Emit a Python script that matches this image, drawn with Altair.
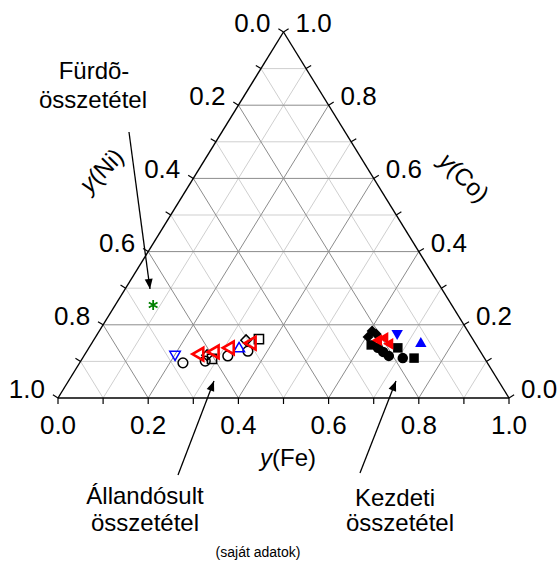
import math
import altair as alt
import pandas as pd

# ---------------- data (mole fractions y(Fe), y(Ni), y(Co)) ----------------
# Állandósult összetétel (open symbols)
o_tri_down_fe = [0.202]
o_tri_down_ni = [0.683]
o_tri_down_co = [0.115]

o_circle_fe = [0.229, 0.276, 0.319, 0.357]
o_circle_ni = [0.675, 0.623, 0.566, 0.515]
o_circle_co = [0.096, 0.101, 0.115, 0.128]

o_square_fe = [0.288, 0.365]
o_square_ni = [0.605, 0.474]
o_square_co = [0.107, 0.161]

o_diamond_fe = [0.272, 0.338]
o_diamond_ni = [0.611, 0.504]
o_diamond_co = [0.117, 0.158]

o_tri_up_fe = [0.332]
o_tri_up_ni = [0.529]
o_tri_up_co = [0.139]

o_tri_left_fe = [0.250, 0.281, 0.309, 0.351]
o_tri_left_ni = [0.630, 0.593, 0.554, 0.499]
o_tri_left_co = [0.120, 0.126, 0.137, 0.150]

# Kezdeti összetétel (filled symbols)
f_diamond_fe = [0.605, 0.604, 0.618]
f_diamond_ni = [0.212, 0.229, 0.207]
f_diamond_co = [0.183, 0.167, 0.175]

f_square_fe = [0.622, 0.685, 0.735]
f_square_ni = [0.233, 0.178, 0.156]
f_square_co = [0.145, 0.137, 0.109]

f_circle_fe = [0.641, 0.658, 0.676, 0.710]
f_circle_ni = [0.222, 0.216, 0.209, 0.181]
f_circle_co = [0.137, 0.126, 0.115, 0.109]

f_tri_left_fe = [0.628, 0.658, 0.639]
f_tri_left_ni = [0.214, 0.194, 0.197]
f_tri_left_co = [0.158, 0.148, 0.164]

f_tri_down_fe = [0.666]
f_tri_down_ni = [0.162]
f_tri_down_co = [0.172]

f_tri_up_fe = [0.728]
f_tri_up_ni = [0.119]
f_tri_up_co = [0.153]

# Fürdõ-összetétel
bath_fe = [0.084]
bath_ni = [0.662]
bath_co = [0.254]

tick_values = [0.0, 0.1, 0.2, 0.3, 0.4, 0.5, 0.6, 0.7, 0.8, 0.9, 1.0]
label_values = [0.0, 0.2, 0.4, 0.6, 0.8, 1.0]

# annotation anchors in the plane's data coordinates (x along base, y = height fraction)
note_text = ["Fürdõ-", "összetétel", "Állandósult", "összetétel", "Kezdeti", "összetétel"]
note_x = [0.0798, 0.0776, 0.1929, 0.1929, 0.7472, 0.7583]
note_y = [0.8907, 0.8115, -0.2705, -0.3443, -0.2760, -0.3443]

arrow_x1 = [0.1574, 0.2661, 0.6696]
arrow_y1 = [0.7268, -0.2104, -0.2049]
arrow_x2 = [0.2040, 0.3459, 0.7494]
arrow_y2 = [0.2978, 0.0464, 0.0464]

# ---------------- layout ----------------
W, H = 557, 568
SX, SY = 451.0, 366.0          # pixels per data unit
XS = alt.Scale(domain=[-58 / SX, (W - 58) / SX], nice=False, zero=False)
YS = alt.Scale(domain=[(398 - H) / SY, 398 / SY], nice=False, zero=False)
FONT = "Liberation Sans"

def enc(extra=None):
    d = dict(x=alt.X("x:Q", scale=XS, axis=None), y=alt.Y("y:Q", scale=YS, axis=None))
    if extra:
        d.update(extra)
    return d

def rules(df, color, width):
    return alt.Chart(df).mark_rule(color=color, strokeWidth=width).encode(
        **enc(dict(x2="x2:Q", y2="y2:Q")))

def cart(fe, co):
    return fe + co / 2.0, co

# grid lines
grid_major, grid_minor = [], []
for i in range(1, 10):
    v = i / 10
    segs = [
        (*cart(0, v), *cart(1 - v, v)),          # y(Co) = v
        (*cart(v, 0), *cart(v, 1 - v)),          # y(Fe) = v
        (*cart(1 - v, 0), *cart(0, 1 - v)),      # y(Ni) = v
    ]
    tgt = grid_major if i % 2 == 0 else grid_minor
    for s in segs:
        tgt.append(dict(x=s[0], y=s[1], x2=s[2], y2=s[3]))
grid_major = pd.DataFrame(grid_major)
grid_minor = pd.DataFrame(grid_minor)

frame = pd.DataFrame([
    dict(x=0, y=0, x2=1, y2=0),
    dict(x=0, y=0, x2=0.5, y2=1),
    dict(x=1, y=0, x2=0.5, y2=1),
])

# ticks (outward, perpendicular to each side)
TL = 6.0
sl = math.hypot(225.5, 366.0)
nx, ny = 366.0 / sl, 225.5 / sl
ticks = []
for v in tick_values:
    bx, by = cart(v, 0)
    ticks.append(dict(x=bx, y=by, x2=bx, y2=by - TL / SY))
    lx, ly = cart(0, 1 - v)
    ticks.append(dict(x=lx, y=ly, x2=lx - nx * TL / SX, y2=ly + ny * TL / SY))
    rx, ry = cart(1 - v, v)
    ticks.append(dict(x=rx, y=ry, x2=rx + nx * TL / SX, y2=ry + ny * TL / SY))
ticks = pd.DataFrame(ticks)

bottom_lab = pd.DataFrame([dict(x=cart(v, 0)[0], y=0, t=f"{v:.1f}") for v in label_values])
left_lab = pd.DataFrame([dict(x=cart(0, 1 - v)[0], y=1 - v, t=f"{v:.1f}") for v in label_values])
right_lab = pd.DataFrame([dict(x=cart(1 - v, v)[0], y=v, t=f"{v:.1f}") for v in label_values])

def texts(df, size=26, **kw):
    return alt.Chart(df).mark_text(font=FONT, fontSize=size, color="black", **kw).encode(
        **enc(dict(text="t:N")))

layers = [
    rules(grid_minor, "#cfcfcf", 1),
    rules(grid_major, "#8c8c8c", 1),
    rules(frame, "black", 1.4),
    rules(ticks, "black", 1.2),
    texts(bottom_lab, align="center", baseline="middle", dy=28),
    texts(left_lab, align="right", baseline="middle", dx=-13, dy=-8),
    texts(right_lab, align="left", baseline="middle", dx=12, dy=-8),
]

# axis titles: italic "y" + upright "(X)"
titles = [("(Fe)", 0.4745, -0.1667, 0), ("(Ni)", 0.0776, 0.5935, 315), ("(Co)", 0.8714, 0.6340, 45)]
for lab, tx, ty, ang in titles:
    d = pd.DataFrame([dict(x=tx, y=ty, t="y")])
    d2 = pd.DataFrame([dict(x=tx, y=ty, t=lab)])
    kw = dict(baseline="middle")
    if ang:
        kw["angle"] = ang
    layers.append(texts(d, size=24, align="right", fontStyle="italic", **kw))
    layers.append(texts(d2, size=24, align="left", **kw))

# annotations
notes = pd.DataFrame(dict(x=note_x, y=note_y, t=note_text))
layers.append(texts(notes, size=24, align="center", baseline="middle"))
layers.append(texts(pd.DataFrame([dict(x=0.4435, y=-0.4235, t="(saját adatok)")]), size=14,
                    align="center", baseline="middle"))

arr = pd.DataFrame(dict(x=arrow_x1, y=arrow_y1, x2=arrow_x2, y2=arrow_y2))
layers.append(rules(arr, "black", 1.3))
for x1, y1, x2, y2 in zip(arrow_x1, arrow_y1, arrow_x2, arrow_y2):
    dxp, dyp = (x2 - x1) * SX, -(y2 - y1) * SY
    ang = math.degrees(math.atan2(dxp, -dyp)) % 360
    head = pd.DataFrame([dict(x=x2, y=y2)])
    layers.append(alt.Chart(head).mark_point(
        shape="M0,0L-0.4,1L0.4,1Z", filled=True, color="black", opacity=1,
        size=400, angle=ang).encode(**enc()))

def pts(fe, ni, co, shape, color, filled, size, sw=1.5):
    df = pd.DataFrame({"fe": fe, "ni": ni, "co": co})
    return alt.Chart(df).transform_calculate(
        x="datum.fe + datum.co / 2", y="datum.co"
    ).mark_point(shape=shape, filled=filled, color=color, size=size,
                 strokeWidth=sw, opacity=1).encode(**enc())

layers += [
    pts(o_circle_fe, o_circle_ni, o_circle_co, "circle", "black", False, 95),
    pts(o_square_fe, o_square_ni, o_square_co, "square", "black", False, 85),
    pts(o_diamond_fe, o_diamond_ni, o_diamond_co, "diamond", "black", False, 110),
    pts(o_tri_down_fe, o_tri_down_ni, o_tri_down_co, "triangle-down", "blue", False, 110),
    pts(o_tri_up_fe, o_tri_up_ni, o_tri_up_co, "triangle-up", "blue", False, 120),
    pts(o_tri_left_fe, o_tri_left_ni, o_tri_left_co, "triangle-left", "red", False, 160, 2.6),
    pts(f_diamond_fe, f_diamond_ni, f_diamond_co, "diamond", "black", True, 120),
    pts(f_square_fe, f_square_ni, f_square_co, "square", "black", True, 90),
    pts(f_circle_fe, f_circle_ni, f_circle_co, "circle", "black", True, 110),
    pts(f_tri_left_fe, f_tri_left_ni, f_tri_left_co, "triangle-left", "red", True, 140),
    pts(f_tri_down_fe, f_tri_down_ni, f_tri_down_co, "triangle-down", "blue", True, 130),
    pts(f_tri_up_fe, f_tri_up_ni, f_tri_up_co, "triangle-up", "blue", True, 130),
    pts(bath_fe, bath_ni, bath_co,
        "M0,-1L0,1M-0.87,-0.5L0.87,0.5M-0.87,0.5L0.87,-0.5", "green", False, 100, 1.8),
]

chart = alt.layer(*layers).properties(
    width=W, height=H, padding=0, autosize=alt.AutoSizeParams(type="none"),
    background="white",
).configure_view(stroke=None)

chart.save("out.html", embed_options={"renderer": "svg", "actions": False})
